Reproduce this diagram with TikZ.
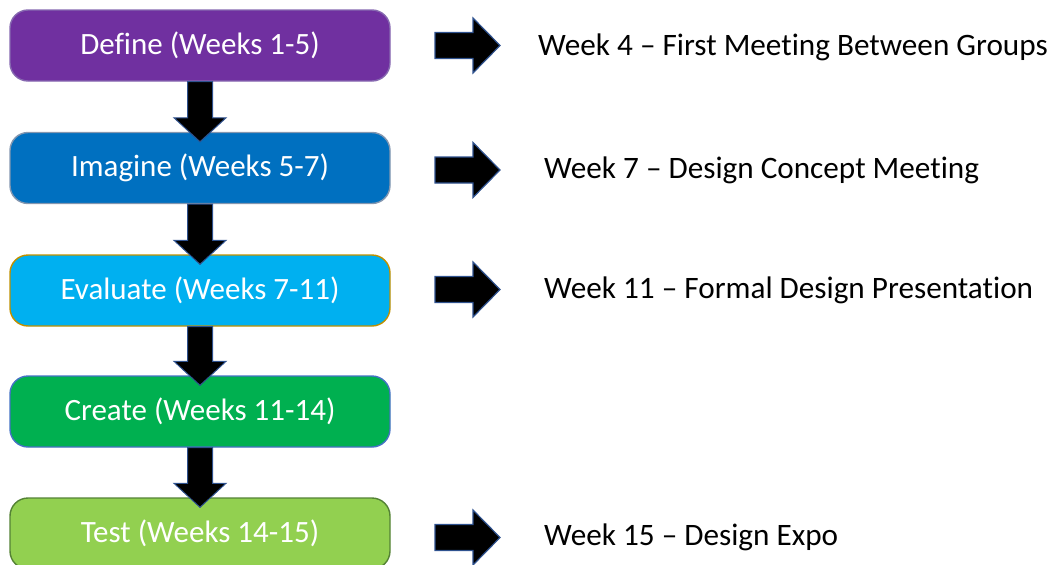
\documentclass[tikz,border=0pt]{standalone}
\usepackage{fontspec}
\setmainfont{Carlito}[Ligatures=NoCommon]
\usetikzlibrary{calc}

\definecolor{defineC}{HTML}{7030A0}
\definecolor{defineE}{HTML}{8668B0}
\definecolor{imagineC}{HTML}{0070C0}
\definecolor{imagineE}{HTML}{8497B0}
\definecolor{evalC}{HTML}{00B0F0}
\definecolor{evalE}{HTML}{BF9000}
\definecolor{createC}{HTML}{00B050}
\definecolor{createE}{HTML}{4472C4}
\definecolor{testC}{HTML}{92D050}
\definecolor{testE}{HTML}{548235}
\definecolor{markC}{HTML}{222A35}
\definecolor{edgeC}{HTML}{2F528F}

\tikzset{
  phase/.style={rectangle, rounded corners=18pt, minimum width=380pt,
    minimum height=71pt, line width=1.4pt, text=white, inner sep=0pt,
    font=\fontsize{31}{36}\selectfont},
  note/.style={anchor=base west, inner sep=0pt, text=black,
    font=\fontsize{31.2}{36}\selectfont},
  blockarrow/.style={fill=black, draw=edgeC, line width=1pt, line join=miter},
  marker/.pic={
    \path[fill=#1, draw=edgeC, line width=1.2pt]
      (0,-13) -- (38,-13) -- (38,-27.5) -- (65,0) -- (38,27.5) -- (38,13)
      -- (0,13) -- cycle;
  },
  marker/.default=markC
}

% block arrow running down from one phase into the next
\newcommand\blockdown[2]{%
  \path[blockarrow]
    ($(#1.south)+(-12.5,0)$) -- ($(#2.north)+(-12.5,-14)$)
    -- ($(#2.north)+(-26,-14)$) -- ($(#2.north)+(0,10)$)
    -- ($(#2.north)+(26,-14)$) -- ($(#2.north)+(12.5,-14)$)
    -- ($(#1.south)+(12.5,0)$) -- cycle;}

\begin{document}
\begin{tikzpicture}[x=1pt, y=-1pt]
  \useasboundingbox (0,0) rectangle (1053,565);
  \clip (0,0) rectangle (1053,565);

  % phases
  \node[phase, fill=defineC,  draw=defineE]  (define)   at (200,45.5)  {Define (Weeks 1-5)};
  \node[phase, fill=imagineC, draw=imagineE] (imagine)  at (200,168)   {Imagine (Weeks 5-7)};
  \node[phase, fill=evalC,    draw=evalE]    (evaluate) at (200,290.5) {Evaluate (Weeks 7-11)};
  \node[phase, fill=createC,  draw=createE]  (create)   at (200,411.5) {Create (Weeks 11-14)};
  \node[phase, fill=testC,    draw=testE]    (test)     at (200,533.5) {Test (Weeks 14-15)};

  % flow between phases
  \blockdown{define}{imagine}
  \blockdown{imagine}{evaluate}
  \blockdown{evaluate}{create}
  \blockdown{create}{test}

  % milestone markers
  \pic at (435,45.5)  {marker};
  \pic at (435,170)   {marker};
  \pic at (435,289.5) {marker};
  \pic at (435,537.5) {marker=black};

  % milestones
  \node[note] (m1) at (538,55)  {Week 4 – First Meeting Between Groups};
  \node[note] (m2) at (544,178) {Week 7 – Design Concept Meeting};
  \node[note] (m3) at (544,298) {Week 11 – Formal Design Presentation};
  \node[note] (m4) at (544,545) {Week 15 – Design Expo};
\end{tikzpicture}
\end{document}
